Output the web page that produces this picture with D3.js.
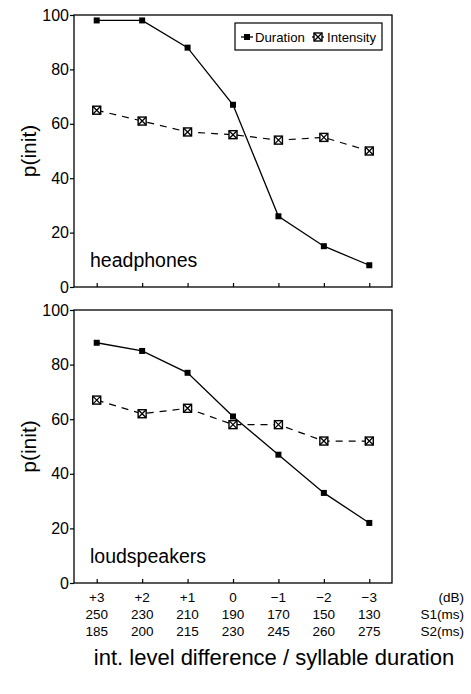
<!DOCTYPE html>
<html>
<head>
<meta charset="utf-8">
<script src="https://cdn.jsdelivr.net/npm/d3@7"></script>
<style>
  body { margin: 0; background: #fff; }
  svg { display: block; font-family: "Liberation Sans", Arial, sans-serif; }
</style>
</head>
<body>
<div id="chart"></div>
<script>
// p(init) for the two listening conditions

// x categories (index 0..6)
const dbLabels = ['+3', '+2', '+1', '0', '\u22121', '\u22122', '\u22123'];
const s1Labels = ['250', '230', '210', '190', '170', '150', '130'];
const s2Labels = ['185', '200', '215', '230', '245', '260', '275'];

// headphones
const headDuration = [98, 98, 88, 67, 26, 15, 8];
const headIntensity = [65, 61, 57, 56, 54, 55, 50];

// loudspeakers
const loudDuration = [88, 85, 77, 61, 47, 33, 22];
const loudIntensity = [67, 62, 64, 58, 58, 52, 52];

const yTicks = [0, 20, 40, 60, 80, 100];

const width = 471;
const height = 694;

const svg = d3.select('#chart')
  .append('svg')
  .attr('width', width)
  .attr('height', height);

const x = d3.scaleLinear().domain([-0.5, 6.5]).range([74, 392]);

const panels = [
  { name: 'headphones', duration: headDuration, intensity: headIntensity, top: 15, bottom: 287, legend: true },
  { name: 'loudspeakers', duration: loudDuration, intensity: loudIntensity, top: 310, bottom: 583, legend: false },
];

// intensity marker: boxed cross
function crossBox(g, cx, cy) {
  const s = 4;
  g.append('rect')
    .attr('x', cx - s).attr('y', cy - s)
    .attr('width', 2 * s).attr('height', 2 * s)
    .attr('fill', '#fff').attr('stroke', '#000').attr('stroke-width', 1.4);
  g.append('path')
    .attr('d', `M${cx - s},${cy - s}L${cx + s},${cy + s}M${cx + s},${cy - s}L${cx - s},${cy + s}`)
    .attr('stroke', '#000').attr('stroke-width', 1.3);
}

function solidBox(g, cx, cy) {
  g.append('rect')
    .attr('x', cx - 3).attr('y', cy - 3)
    .attr('width', 6).attr('height', 6)
    .attr('fill', '#000');
}

panels.forEach((p) => {
  const y = d3.scaleLinear().domain([0, 100]).range([p.bottom, p.top]);
  const g = svg.append('g');
  const idx = d3.range(p.duration.length);

  // frame
  g.append('rect')
    .attr('x', x.range()[0]).attr('y', p.top)
    .attr('width', x.range()[1] - x.range()[0])
    .attr('height', p.bottom - p.top)
    .attr('fill', 'none').attr('stroke', '#000').attr('stroke-width', 1.3);

  // y axis (ticks outward)
  const yAxis = d3.axisLeft(y).tickValues(yTicks).tickSize(4).tickPadding(1);
  const ya = g.append('g').attr('transform', `translate(${x.range()[0]},0)`).call(yAxis);
  ya.select('.domain').remove();
  ya.selectAll('line').attr('stroke-width', 1.2);
  ya.selectAll('text').attr('font-size', 16).attr('font-family', '"Liberation Sans", Arial, sans-serif').attr('fill', '#000');

  // x ticks (inward)
  const xAxis = d3.axisTop(x).tickValues(idx).tickSize(4).tickFormat('');
  const xa = g.append('g').attr('transform', `translate(0,${p.bottom})`).call(xAxis);
  xa.select('.domain').remove();
  xa.selectAll('line').attr('stroke-width', 1.2);

  // y label
  g.append('text')
    .attr('transform', `translate(36,${(p.top + p.bottom) / 2}) rotate(-90)`)
    .attr('text-anchor', 'middle')
    .attr('font-size', 21)
    .text('p(init)');

  // panel name
  g.append('text')
    .attr('x', 90).attr('y', p.bottom - 20)
    .attr('font-size', 19.5)
    .text(p.name);

  const line = d3.line().x((d, i) => x(i)).y(d => y(d));

  g.append('path')
    .datum(p.intensity)
    .attr('d', line)
    .attr('fill', 'none').attr('stroke', '#000').attr('stroke-width', 1.2)
    .attr('stroke-dasharray', '7,6');

  g.append('path')
    .datum(p.duration)
    .attr('d', line)
    .attr('fill', 'none').attr('stroke', '#000').attr('stroke-width', 1.3);

  p.intensity.forEach((d, i) => crossBox(g, x(i), y(d)));
  p.duration.forEach((d, i) => solidBox(g, x(i), y(d)));

  if (p.legend) {
    const lg = g.append('g');
    lg.append('rect')
      .attr('x', 235).attr('y', 23).attr('width', 147).attr('height', 27)
      .attr('fill', '#fff').attr('stroke', '#000').attr('stroke-width', 1.2);
    const ly = 37;
    lg.append('line').attr('x1', 241).attr('x2', 253).attr('y1', ly).attr('y2', ly)
      .attr('stroke', '#000').attr('stroke-width', 1.3);
    solidBox(lg, 247, ly);
    lg.append('text').attr('x', 255).attr('y', ly + 4.5).attr('font-size', 13.2).text('Duration');
    lg.append('line').attr('x1', 312).attr('x2', 324).attr('y1', ly).attr('y2', ly)
      .attr('stroke', '#000').attr('stroke-width', 1.3);
    crossBox(lg, 318, ly);
    lg.append('text').attr('x', 327).attr('y', ly + 4.5).attr('font-size', 13.2).text('Intensity');
  }
});

// category label rows under the lower panel
const rows = [
  { labels: dbLabels, unit: '(dB)', y: 602 },
  { labels: s1Labels, unit: 'S1(ms)', y: 619 },
  { labels: s2Labels, unit: 'S2(ms)', y: 636 },
];

rows.forEach((r) => {
  svg.append('g')
    .selectAll('text')
    .data(r.labels)
    .join('text')
    .attr('x', (d, i) => x(i))
    .attr('y', r.y)
    .attr('text-anchor', 'middle')
    .attr('font-size', 13.5)
    .text(d => d);
  svg.append('text')
    .attr('x', 464).attr('y', r.y)
    .attr('text-anchor', 'end')
    .attr('font-size', 13.5)
    .text(r.unit);
});

svg.append('text')
  .attr('x', 274).attr('y', 665)
  .attr('text-anchor', 'middle')
  .attr('font-size', 22)
  .text('int. level difference / syllable duration');
</script>
</body>
</html>
